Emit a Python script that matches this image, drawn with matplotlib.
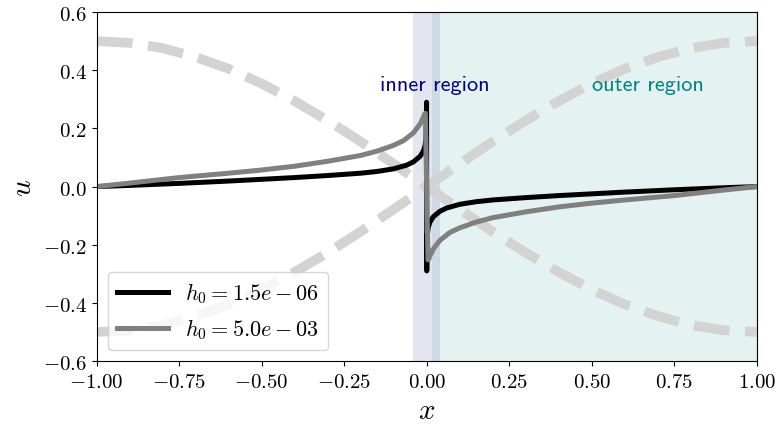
import matplotlib
matplotlib.use("Agg")
import matplotlib.pyplot as plt

plt.rcParams["mathtext.fontset"] = "cm"
plt.rcParams["axes.formatter.use_mathtext"] = True

# dashed reference curves
x_ref = [-1.0, -0.9, -0.8, -0.7, -0.6, -0.5, -0.4, -0.3, -0.2, -0.1, 0.0,
         0.1, 0.2, 0.3, 0.4, 0.5, 0.6, 0.7, 0.8, 0.9, 1.0]
u_ref_down = [0.500, 0.494, 0.476, 0.445, 0.405, 0.354, 0.294, 0.227, 0.155, 0.078, 0.0,
              -0.078, -0.155, -0.227, -0.294, -0.354, -0.405, -0.445, -0.476, -0.494, -0.500]
u_ref_up = [-0.500, -0.494, -0.476, -0.445, -0.405, -0.354, -0.294, -0.227, -0.155, -0.078, 0.0,
            0.078, 0.155, 0.227, 0.294, 0.354, 0.405, 0.445, 0.476, 0.494, 0.500]

# h0 = 1.5e-06
x_small = [-1.0, -0.9, -0.75, -0.6, -0.5, -0.4, -0.3, -0.2, -0.15, -0.1, -0.06, -0.04,
           -0.02, -0.01, -0.005, -0.002, -0.0008, -0.0003,
           0.0003, 0.0008, 0.002, 0.005, 0.01, 0.02, 0.04, 0.06, 0.1, 0.15, 0.2,
           0.3, 0.4, 0.5, 0.6, 0.75, 0.9, 1.0]
u_small = [0.0, 0.004, 0.011, 0.019, 0.025, 0.031, 0.038, 0.046, 0.052, 0.061, 0.074, 0.085,
           0.104, 0.122, 0.140, 0.165, 0.215, 0.290,
           -0.290, -0.215, -0.165, -0.140, -0.122, -0.104, -0.085, -0.074, -0.061, -0.052, -0.046,
           -0.038, -0.031, -0.025, -0.019, -0.011, -0.004, 0.0]

# h0 = 5.0e-03
x_large = [-1.0, -0.9, -0.75, -0.6, -0.5, -0.4, -0.3, -0.2, -0.15, -0.1, -0.07, -0.04,
           -0.02, -0.01, -0.006, -0.004,
           0.004, 0.006, 0.01, 0.02, 0.04, 0.07, 0.1, 0.15, 0.2,
           0.3, 0.4, 0.5, 0.6, 0.75, 0.9, 1.0]
u_large = [0.0, 0.012, 0.031, 0.046, 0.057, 0.070, 0.087, 0.107, 0.122, 0.142, 0.158, 0.185,
           0.215, 0.238, 0.250, 0.252,
           -0.252, -0.250, -0.238, -0.215, -0.185, -0.158, -0.142, -0.122, -0.107,
           -0.087, -0.070, -0.057, -0.046, -0.031, -0.012, 0.0]

labels = [r"$h_0 = 1.5e-06$", r"$h_0 = 5.0e-03$"]

fig = plt.figure(figsize=(7.79, 4.27), dpi=100)
ax = fig.add_axes([0.124, 0.152, 0.8474, 0.8174])

ax.axvspan(-0.04, 0.04, color="navy", alpha=0.1, lw=0)
ax.axvspan(0.015, 1.0, color="teal", alpha=0.1, lw=0)

ax.plot(x_ref, u_ref_down, "--", color="lightgray", lw=7)
ax.plot(x_ref, u_ref_up, "--", color="lightgray", lw=7)

ax.plot(x_small, u_small, color="black", lw=3.6, label=labels[0])
ax.plot(x_large, u_large, color="gray", lw=3.6, label=labels[1])

ax.text(-0.142, 0.352, "inner region", color="navy", fontsize=16,
        family="cmss10", va="center", ha="left")
ax.text(0.50, 0.352, "outer region", color="teal", fontsize=16,
        family="cmss10", va="center", ha="left")

ax.set_xlim(-1, 1)
ax.set_ylim(-0.6, 0.6)
ax.set_xticks([-1.0, -0.75, -0.5, -0.25, 0.0, 0.25, 0.5, 0.75, 1.0])
ax.set_yticks([-0.6, -0.4, -0.2, 0.0, 0.2, 0.4, 0.6])
ax.xaxis.set_major_formatter(matplotlib.ticker.FormatStrFormatter(r"$%.2f$"))
ax.yaxis.set_major_formatter(matplotlib.ticker.FormatStrFormatter(r"$%.1f$"))
ax.tick_params(labelsize=15)
ax.set_xlabel(r"$x$", fontsize=21)
ax.set_ylabel(r"$u$", fontsize=21)

ax.legend(loc="lower left", fontsize=16, handlelength=2.3)

fig.savefig("out.png", dpi=100)
